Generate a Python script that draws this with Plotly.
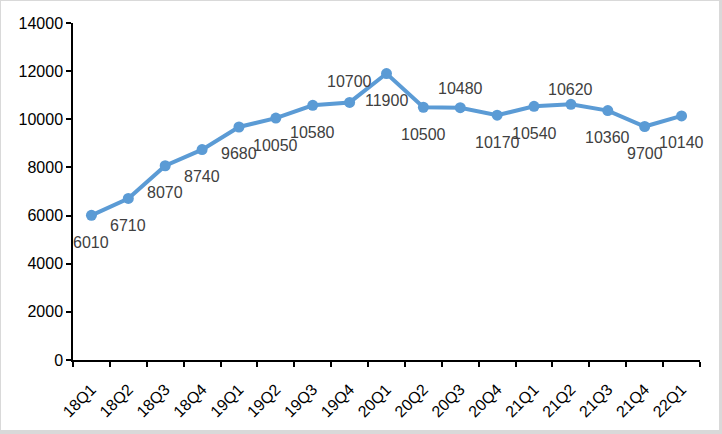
import plotly.graph_objects as go

quarters = ["18Q1", "18Q2", "18Q3", "18Q4", "19Q1", "19Q2", "19Q3", "19Q4", "20Q1",
            "20Q2", "20Q3", "20Q4", "21Q1", "21Q2", "21Q3", "21Q4", "22Q1"]
values = [6010, 6710, 8070, 8740, 9680, 10050, 10580, 10700, 11900,
          10500, 10480, 10170, 10540, 10620, 10360, 9700, 10140]
# vertical offset of each data label (pixels, + is up)
label_shift = [-27, -27, -27, -27, -27, -27, -27, 21, -27,
               -27, 19, -27, -27, 15, -27, -27, -27]

FONT = "Liberation Sans"
fig = go.Figure()
fig.add_trace(go.Scatter(
    x=quarters, y=values, mode="lines+markers",
    line=dict(color="#5B9BD5", width=4),
    marker=dict(color="#5B9BD5", size=11),
    hoverinfo="skip", showlegend=False,
))

for q, v, s in zip(quarters, values, label_shift):
    fig.add_annotation(x=q, y=v, text=str(v), showarrow=False, yshift=s,
                       xanchor="center", yanchor="middle",
                       font=dict(family=FONT, size=16, color="#404040"))

W, H = 722, 434
L, R, T, B = 73, 22, 23, 74
pw, ph = W - L - R, H - T - B
# white chart area inside a light grey frame
fig.add_shape(type="rect", xref="paper", yref="paper",
              x0=(-L + 1) / pw, x1=1 + (R - 3) / pw,
              y0=(-B + 4) / ph, y1=1 + (T - 1) / ph,
              line=dict(width=0), fillcolor="white", layer="below")

axis_common = dict(ticks="outside", ticklen=5, tickcolor="black", tickwidth=1.5,
                   showline=True, linecolor="black", linewidth=1.5,
                   showgrid=False, zeroline=False, automargin=False,
                   tickfont=dict(family=FONT, size=16, color="black"))
fig.update_layout(
    width=W, height=H, autosize=False,
    margin=dict(l=L, r=R, t=T, b=B),
    paper_bgcolor="#D9D9D9", plot_bgcolor="white",
    font=dict(family=FONT, size=16, color="black"),
    xaxis=dict(type="category", tickson="boundaries", tickangle=-45,
               range=[-0.5, len(quarters) - 0.5],
               ticklabelstandoff=12, **axis_common),
    yaxis=dict(range=[0, 14000], dtick=2000, tickformat="d", **axis_common),
)

fig.write_html("out.html", config={"responsive": False, "displayModeBar": False},
               post_script="document.body.style.margin='0';document.body.style.overflow='hidden';")
